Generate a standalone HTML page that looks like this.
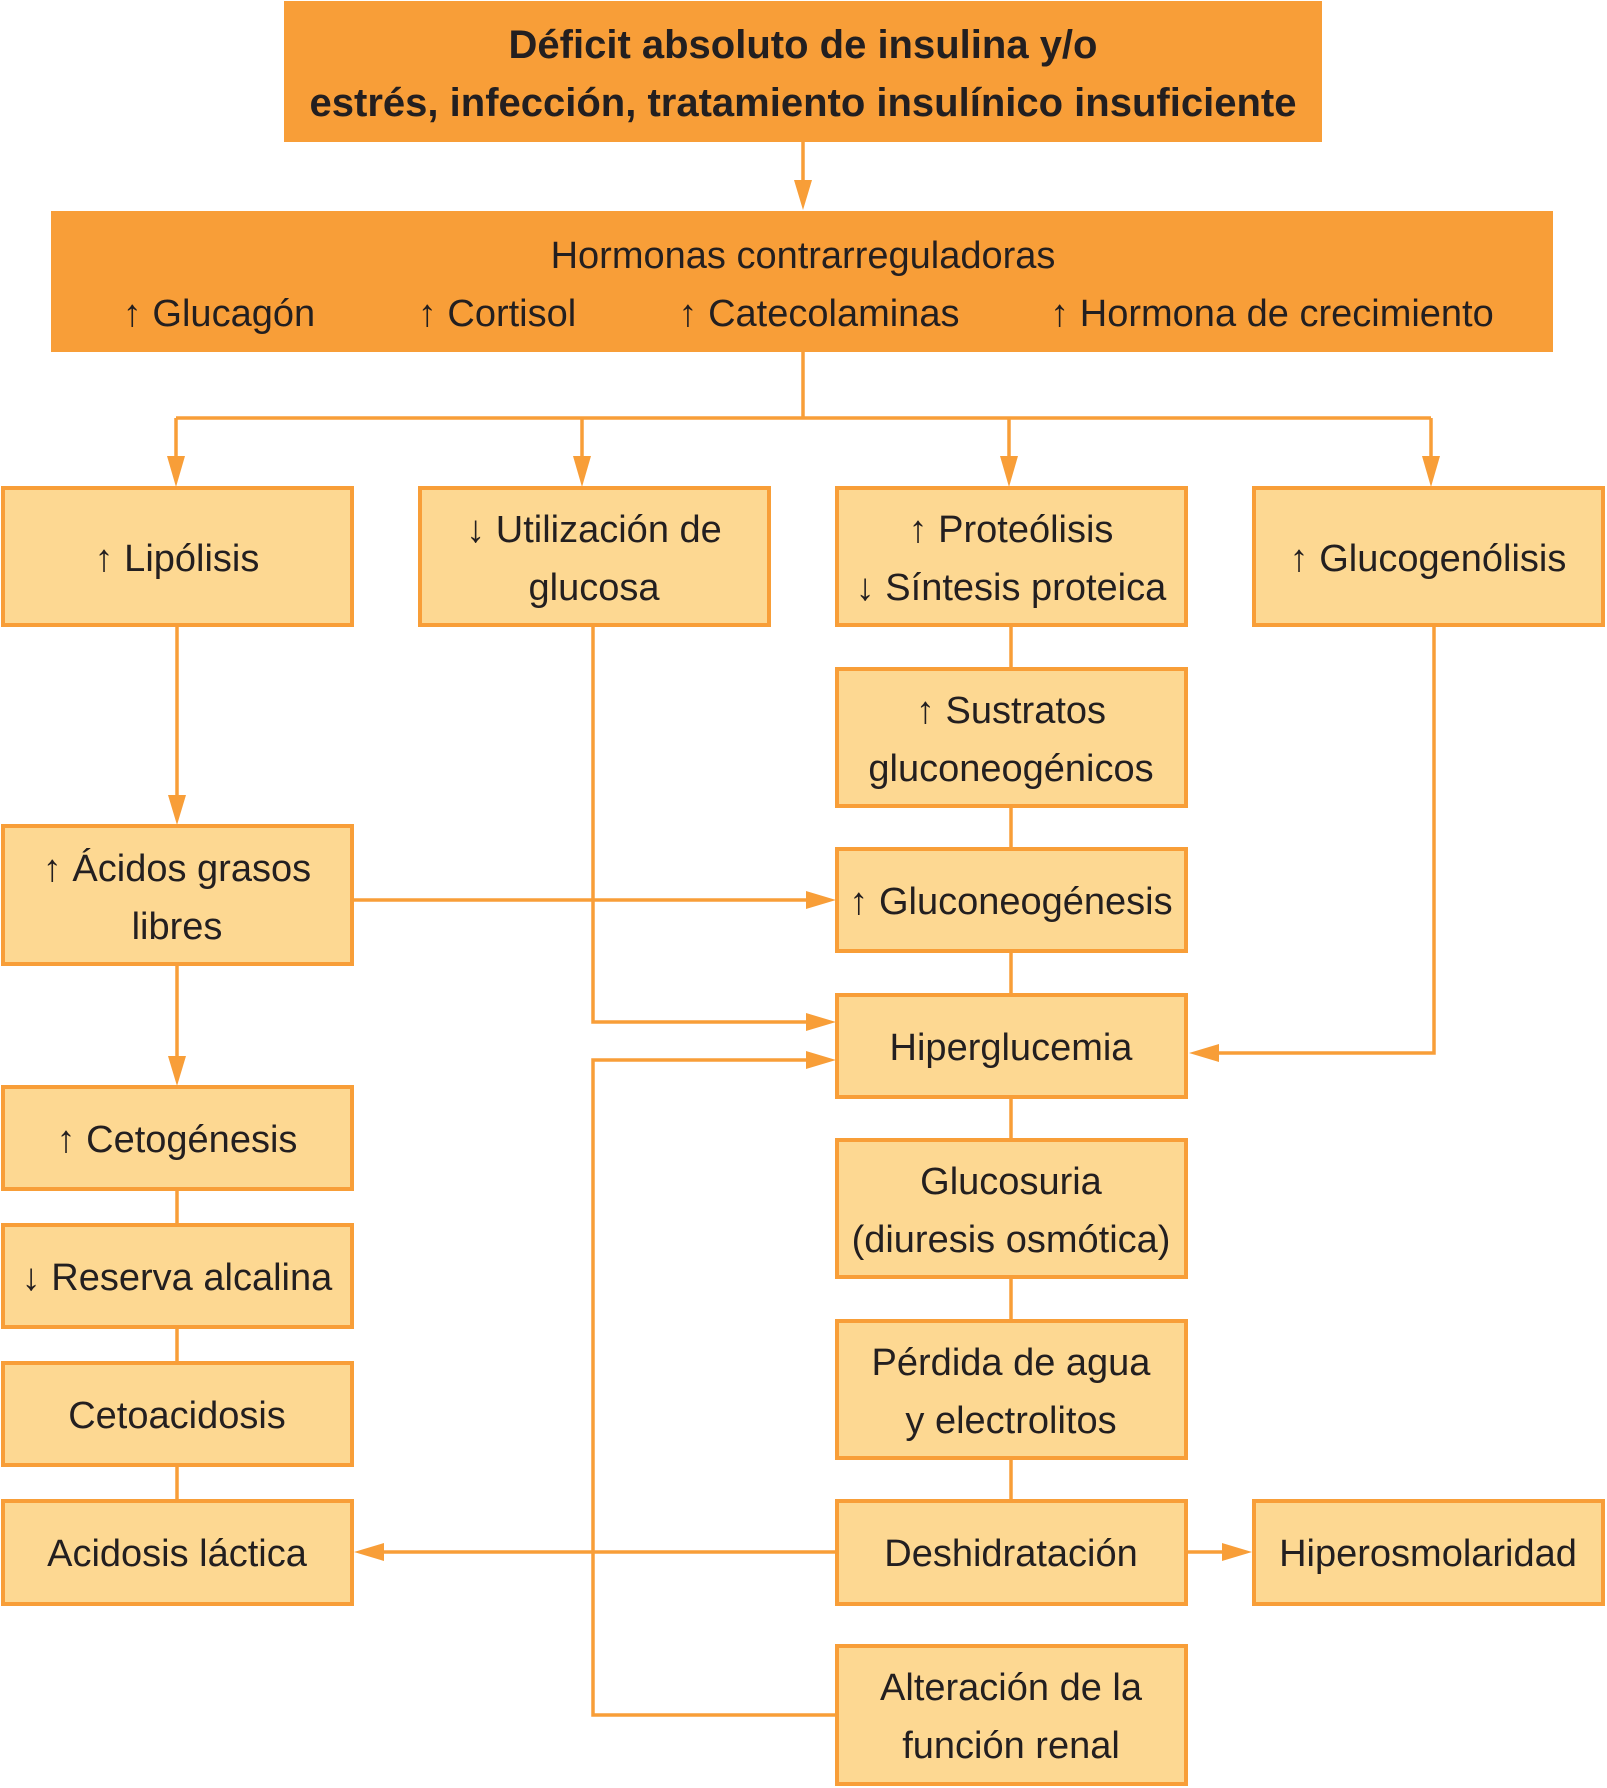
<!DOCTYPE html>
<html><head><meta charset="utf-8"><style>
html,body{margin:0;padding:0;background:#fff;}
svg{display:block;}
text{font-family:"Liberation Sans",sans-serif;fill:#231f20;}
</style></head><body>
<svg width="1607" height="1788" viewBox="0 0 1607 1788" xmlns="http://www.w3.org/2000/svg">
<g fill="#f89e38">
<rect x="284" y="1" width="1038" height="141"/>
<rect x="51" y="211" width="1502" height="141"/>
</g>
<g fill="#fdd892" stroke="#f89e38" stroke-width="4">
<rect x="3" y="488" width="349" height="137"/>
<rect x="420" y="488" width="349" height="137"/>
<rect x="837" y="488" width="349" height="137"/>
<rect x="1254" y="488" width="349" height="137"/>
<rect x="837" y="669" width="349" height="137"/>
<rect x="837" y="849" width="349" height="102"/>
<rect x="837" y="995" width="349" height="102"/>
<rect x="837" y="1140" width="349" height="137"/>
<rect x="837" y="1321" width="349" height="137"/>
<rect x="837" y="1501" width="349" height="103"/>
<rect x="837" y="1646" width="349" height="138"/>
<rect x="3" y="826" width="349" height="138"/>
<rect x="3" y="1087" width="349" height="102"/>
<rect x="3" y="1225" width="349" height="102"/>
<rect x="3" y="1363" width="349" height="102"/>
<rect x="3" y="1501" width="349" height="103"/>
<rect x="1254" y="1501" width="349" height="103"/>
</g>
<g stroke="#f89e38" stroke-width="3.5" fill="none">
<line x1="803" y1="142" x2="803" y2="190"/>
<line x1="803" y1="352" x2="803" y2="418"/>
<line x1="176" y1="418" x2="1431" y2="418"/>
<line x1="176" y1="418" x2="176" y2="465"/>
<line x1="582" y1="418" x2="582" y2="465"/>
<line x1="1009" y1="418" x2="1009" y2="465"/>
<line x1="1431" y1="418" x2="1431" y2="465"/>
<line x1="177" y1="626" x2="177" y2="805"/>
<line x1="177" y1="965" x2="177" y2="1066"/>
<line x1="177" y1="1190" x2="177" y2="1224"/>
<line x1="177" y1="1328" x2="177" y2="1362"/>
<line x1="177" y1="1466" x2="177" y2="1500"/>
<line x1="1011" y1="626" x2="1011" y2="668"/>
<line x1="1011" y1="807" x2="1011" y2="848"/>
<line x1="1011" y1="952" x2="1011" y2="994"/>
<line x1="1011" y1="1098" x2="1011" y2="1139"/>
<line x1="1011" y1="1278" x2="1011" y2="1320"/>
<line x1="1011" y1="1459" x2="1011" y2="1500"/>
<polyline points="593,626 593,1022 812,1022"/>
<polyline points="812,1060 593,1060 593,1715 836,1715"/>
<line x1="353" y1="900" x2="812" y2="900"/>
<polyline points="1434,626 1434,1053 1212,1053"/>
<line x1="836" y1="1552" x2="378" y2="1552"/>
<line x1="1188" y1="1552" x2="1230" y2="1552"/>
</g>
<g fill="#f89e38">
<polygon points="794,180 812,180 803,210"/>
<polygon points="167,456 185,456 176,487"/>
<polygon points="573,456 591,456 582,487"/>
<polygon points="1000,456 1018,456 1009,487"/>
<polygon points="1422,456 1440,456 1431,487"/>
<polygon points="168,795 186,795 177,825"/>
<polygon points="168,1056 186,1056 177,1086"/>
<polygon points="806,891 806,909 836,900"/>
<polygon points="806,1013 806,1031 836,1022"/>
<polygon points="806,1051 806,1069 836,1060"/>
<polygon points="1219,1044 1219,1062 1189,1053"/>
<polygon points="384,1543 384,1561 354,1552"/>
<polygon points="1222,1543 1222,1561 1252,1552"/>
</g>
<g font-weight="bold" font-size="40" text-anchor="middle">
<text x="803" y="58">Déficit absoluto de insulina y/o</text>
<text x="803" y="116">estrés, infección, tratamiento insulínico insuficiente</text>
</g>
<g font-size="38" text-anchor="middle">
<text x="803" y="268">Hormonas contrarreguladoras</text>
<text x="219" y="326">↑ Glucagón</text>
<text x="497" y="326">↑ Cortisol</text>
<text x="819" y="326">↑ Catecolaminas</text>
<text x="1272" y="326">↑ Hormona de crecimiento</text>
<text x="177" y="571">↑ Lipólisis</text>
<text x="594" y="542">↓ Utilización de</text>
<text x="594" y="600">glucosa</text>
<text x="1011" y="542">↑ Proteólisis</text>
<text x="1011" y="600">↓ Síntesis proteica</text>
<text x="1428" y="571">↑ Glucogenólisis</text>
<text x="1011" y="723">↑ Sustratos</text>
<text x="1011" y="781">gluconeogénicos</text>
<text x="1011" y="914">↑ Gluconeogénesis</text>
<text x="1011" y="1060">Hiperglucemia</text>
<text x="1011" y="1194">Glucosuria</text>
<text x="1011" y="1252">(diuresis osmótica)</text>
<text x="1011" y="1375">Pérdida de agua</text>
<text x="1011" y="1433">y electrolitos</text>
<text x="1011" y="1566">Deshidratación</text>
<text x="1011" y="1700">Alteración de la</text>
<text x="1011" y="1758">función renal</text>
<text x="177" y="881">↑ Ácidos grasos</text>
<text x="177" y="939">libres</text>
<text x="177" y="1152">↑ Cetogénesis</text>
<text x="177" y="1290">↓ Reserva alcalina</text>
<text x="177" y="1428">Cetoacidosis</text>
<text x="177" y="1566">Acidosis láctica</text>
<text x="1428" y="1566">Hiperosmolaridad</text>
</g>
</svg>
</body></html>
